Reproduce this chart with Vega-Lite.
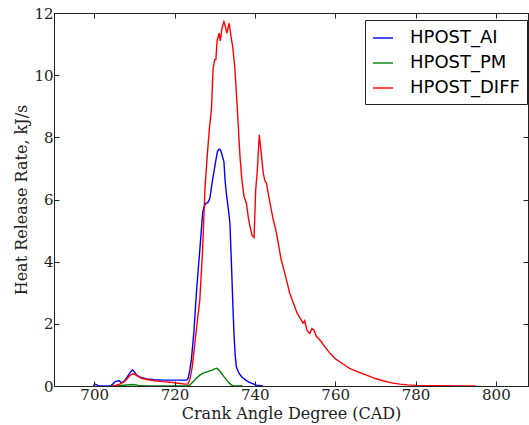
{
  "$schema": "https://vega.github.io/schema/vega-lite/v6.json",
  "width": 474,
  "height": 373,
  "autosize": {"type": "none"},
  "padding": {"left": 54, "top": 13, "right": 1, "bottom": 39},
  "background": "white",
  "config": {
    "view": {"stroke": "#222", "strokeWidth": 1},
    "axis": {
      "grid": false,
      "domainColor": "#222",
      "tickColor": "#222",
      "labelColor": "#222",
      "titleColor": "#222",
      "labelFont": "DejaVu Serif",
      "labelFontSize": 15,
      "titleFont": "DejaVu Serif",
      "titleFontSize": 16,
      "titleFontWeight": "normal"
    }
  },
  "data": {
    "values": [
      {"cad": 699.8, "hrr": 0, "series": "HPOST_AI"},
      {"cad": 700.2, "hrr": 0.06, "series": "HPOST_AI"},
      {"cad": 700.8, "hrr": 0.03, "series": "HPOST_AI"},
      {"cad": 701.2, "hrr": 0, "series": "HPOST_AI"},
      {"cad": 704.0, "hrr": 0, "series": "HPOST_AI"},
      {"cad": 704.6, "hrr": 0.06, "series": "HPOST_AI"},
      {"cad": 705.2, "hrr": 0.14, "series": "HPOST_AI"},
      {"cad": 706.2, "hrr": 0.17, "series": "HPOST_AI"},
      {"cad": 706.8, "hrr": 0.1, "series": "HPOST_AI"},
      {"cad": 707.4, "hrr": 0.15, "series": "HPOST_AI"},
      {"cad": 708.1, "hrr": 0.27, "series": "HPOST_AI"},
      {"cad": 708.9, "hrr": 0.42, "series": "HPOST_AI"},
      {"cad": 709.5, "hrr": 0.52, "series": "HPOST_AI"},
      {"cad": 710.0, "hrr": 0.45, "series": "HPOST_AI"},
      {"cad": 710.6, "hrr": 0.35, "series": "HPOST_AI"},
      {"cad": 711.5, "hrr": 0.28, "series": "HPOST_AI"},
      {"cad": 713.1, "hrr": 0.23, "series": "HPOST_AI"},
      {"cad": 715.0, "hrr": 0.2, "series": "HPOST_AI"},
      {"cad": 717.2, "hrr": 0.19, "series": "HPOST_AI"},
      {"cad": 720.0, "hrr": 0.19, "series": "HPOST_AI"},
      {"cad": 723.0, "hrr": 0.19, "series": "HPOST_AI"},
      {"cad": 723.4, "hrr": 0.25, "series": "HPOST_AI"},
      {"cad": 723.8, "hrr": 0.5, "series": "HPOST_AI"},
      {"cad": 724.2, "hrr": 0.84, "series": "HPOST_AI"},
      {"cad": 724.8, "hrr": 1.7, "series": "HPOST_AI"},
      {"cad": 725.5, "hrr": 3.09, "series": "HPOST_AI"},
      {"cad": 726.3, "hrr": 4.38, "series": "HPOST_AI"},
      {"cad": 727.0, "hrr": 5.56, "series": "HPOST_AI"},
      {"cad": 727.3, "hrr": 5.75, "series": "HPOST_AI"},
      {"cad": 727.8, "hrr": 5.88, "series": "HPOST_AI"},
      {"cad": 728.3, "hrr": 5.9, "series": "HPOST_AI"},
      {"cad": 728.8, "hrr": 6.04, "series": "HPOST_AI"},
      {"cad": 729.2, "hrr": 6.4, "series": "HPOST_AI"},
      {"cad": 729.6, "hrr": 6.73, "series": "HPOST_AI"},
      {"cad": 730.3, "hrr": 7.27, "series": "HPOST_AI"},
      {"cad": 730.7, "hrr": 7.55, "series": "HPOST_AI"},
      {"cad": 731.1, "hrr": 7.62, "series": "HPOST_AI"},
      {"cad": 731.4, "hrr": 7.6, "series": "HPOST_AI"},
      {"cad": 731.7, "hrr": 7.5, "series": "HPOST_AI"},
      {"cad": 732.0, "hrr": 7.35, "series": "HPOST_AI"},
      {"cad": 732.3, "hrr": 7.22, "series": "HPOST_AI"},
      {"cad": 732.6, "hrr": 6.6, "series": "HPOST_AI"},
      {"cad": 733.0, "hrr": 6.09, "series": "HPOST_AI"},
      {"cad": 733.4, "hrr": 5.7, "series": "HPOST_AI"},
      {"cad": 733.8, "hrr": 5.23, "series": "HPOST_AI"},
      {"cad": 734.2, "hrr": 3.84, "series": "HPOST_AI"},
      {"cad": 734.5, "hrr": 2.7, "series": "HPOST_AI"},
      {"cad": 734.8, "hrr": 1.7, "series": "HPOST_AI"},
      {"cad": 735.1, "hrr": 1.0, "series": "HPOST_AI"},
      {"cad": 735.4, "hrr": 0.62, "series": "HPOST_AI"},
      {"cad": 736.0, "hrr": 0.42, "series": "HPOST_AI"},
      {"cad": 736.7, "hrr": 0.3, "series": "HPOST_AI"},
      {"cad": 737.8, "hrr": 0.18, "series": "HPOST_AI"},
      {"cad": 738.8, "hrr": 0.11, "series": "HPOST_AI"},
      {"cad": 740.4, "hrr": 0.03, "series": "HPOST_AI"},
      {"cad": 742.0, "hrr": 0, "series": "HPOST_AI"},

      {"cad": 704.0, "hrr": 0, "series": "HPOST_PM"},
      {"cad": 706.0, "hrr": 0.01, "series": "HPOST_PM"},
      {"cad": 708.0, "hrr": 0.03, "series": "HPOST_PM"},
      {"cad": 709.7, "hrr": 0.05, "series": "HPOST_PM"},
      {"cad": 711.0, "hrr": 0.02, "series": "HPOST_PM"},
      {"cad": 713.0, "hrr": 0, "series": "HPOST_PM"},
      {"cad": 723.2, "hrr": 0, "series": "HPOST_PM"},
      {"cad": 723.8, "hrr": 0.03, "series": "HPOST_PM"},
      {"cad": 724.5, "hrr": 0.12, "series": "HPOST_PM"},
      {"cad": 725.3, "hrr": 0.23, "series": "HPOST_PM"},
      {"cad": 726.3, "hrr": 0.35, "series": "HPOST_PM"},
      {"cad": 727.3, "hrr": 0.42, "series": "HPOST_PM"},
      {"cad": 728.4, "hrr": 0.47, "series": "HPOST_PM"},
      {"cad": 729.3, "hrr": 0.5, "series": "HPOST_PM"},
      {"cad": 730.0, "hrr": 0.55, "series": "HPOST_PM"},
      {"cad": 730.5, "hrr": 0.57, "series": "HPOST_PM"},
      {"cad": 731.0, "hrr": 0.52, "series": "HPOST_PM"},
      {"cad": 731.7, "hrr": 0.41, "series": "HPOST_PM"},
      {"cad": 732.3, "hrr": 0.3, "series": "HPOST_PM"},
      {"cad": 733.0, "hrr": 0.19, "series": "HPOST_PM"},
      {"cad": 733.6, "hrr": 0.1, "series": "HPOST_PM"},
      {"cad": 734.2, "hrr": 0.03, "series": "HPOST_PM"},
      {"cad": 735.0, "hrr": 0, "series": "HPOST_PM"},
      {"cad": 737.0, "hrr": 0, "series": "HPOST_PM"},

      {"cad": 704.5, "hrr": 0, "series": "HPOST_DIFF"},
      {"cad": 705.5, "hrr": 0.03, "series": "HPOST_DIFF"},
      {"cad": 706.5, "hrr": 0.07, "series": "HPOST_DIFF"},
      {"cad": 707.5, "hrr": 0.14, "series": "HPOST_DIFF"},
      {"cad": 708.3, "hrr": 0.25, "series": "HPOST_DIFF"},
      {"cad": 709.0, "hrr": 0.35, "series": "HPOST_DIFF"},
      {"cad": 709.7, "hrr": 0.39, "series": "HPOST_DIFF"},
      {"cad": 710.3, "hrr": 0.36, "series": "HPOST_DIFF"},
      {"cad": 711.0, "hrr": 0.3, "series": "HPOST_DIFF"},
      {"cad": 712.0, "hrr": 0.24, "series": "HPOST_DIFF"},
      {"cad": 713.5, "hrr": 0.2, "series": "HPOST_DIFF"},
      {"cad": 715.0, "hrr": 0.17, "series": "HPOST_DIFF"},
      {"cad": 717.0, "hrr": 0.14, "series": "HPOST_DIFF"},
      {"cad": 719.0, "hrr": 0.12, "series": "HPOST_DIFF"},
      {"cad": 721.0, "hrr": 0.09, "series": "HPOST_DIFF"},
      {"cad": 722.6, "hrr": 0.06, "series": "HPOST_DIFF"},
      {"cad": 723.3, "hrr": 0.06, "series": "HPOST_DIFF"},
      {"cad": 723.8, "hrr": 0.2, "series": "HPOST_DIFF"},
      {"cad": 724.4, "hrr": 0.6, "series": "HPOST_DIFF"},
      {"cad": 725.0, "hrr": 1.3, "series": "HPOST_DIFF"},
      {"cad": 725.6, "hrr": 2.0, "series": "HPOST_DIFF"},
      {"cad": 726.3, "hrr": 2.77, "series": "HPOST_DIFF"},
      {"cad": 727.0, "hrr": 4.4, "series": "HPOST_DIFF"},
      {"cad": 727.6, "hrr": 6.4, "series": "HPOST_DIFF"},
      {"cad": 728.2, "hrr": 7.5, "series": "HPOST_DIFF"},
      {"cad": 728.7, "hrr": 8.3, "series": "HPOST_DIFF"},
      {"cad": 729.2, "hrr": 8.9, "series": "HPOST_DIFF"},
      {"cad": 729.6, "hrr": 10.2, "series": "HPOST_DIFF"},
      {"cad": 730.0, "hrr": 10.5, "series": "HPOST_DIFF"},
      {"cad": 730.3, "hrr": 10.5, "series": "HPOST_DIFF"},
      {"cad": 730.6, "hrr": 11.1, "series": "HPOST_DIFF"},
      {"cad": 731.1, "hrr": 11.35, "series": "HPOST_DIFF"},
      {"cad": 731.4, "hrr": 11.1, "series": "HPOST_DIFF"},
      {"cad": 731.8, "hrr": 11.5, "series": "HPOST_DIFF"},
      {"cad": 732.3, "hrr": 11.72, "series": "HPOST_DIFF"},
      {"cad": 732.6, "hrr": 11.6, "series": "HPOST_DIFF"},
      {"cad": 733.0, "hrr": 11.35, "series": "HPOST_DIFF"},
      {"cad": 733.3, "hrr": 11.5, "series": "HPOST_DIFF"},
      {"cad": 733.6, "hrr": 11.67, "series": "HPOST_DIFF"},
      {"cad": 734.0, "hrr": 11.3, "series": "HPOST_DIFF"},
      {"cad": 734.5, "hrr": 10.9, "series": "HPOST_DIFF"},
      {"cad": 735.0, "hrr": 10.27, "series": "HPOST_DIFF"},
      {"cad": 735.6, "hrr": 9.0, "series": "HPOST_DIFF"},
      {"cad": 736.3, "hrr": 7.38, "series": "HPOST_DIFF"},
      {"cad": 736.8, "hrr": 6.6, "series": "HPOST_DIFF"},
      {"cad": 737.3, "hrr": 6.1, "series": "HPOST_DIFF"},
      {"cad": 737.9, "hrr": 5.88, "series": "HPOST_DIFF"},
      {"cad": 738.4, "hrr": 5.4, "series": "HPOST_DIFF"},
      {"cad": 738.8, "hrr": 5.13, "series": "HPOST_DIFF"},
      {"cad": 739.3, "hrr": 4.85, "series": "HPOST_DIFF"},
      {"cad": 739.8, "hrr": 4.78, "series": "HPOST_DIFF"},
      {"cad": 740.0, "hrr": 5.5, "series": "HPOST_DIFF"},
      {"cad": 740.2, "hrr": 6.3, "series": "HPOST_DIFF"},
      {"cad": 740.6, "hrr": 6.9, "series": "HPOST_DIFF"},
      {"cad": 741.1, "hrr": 8.08, "series": "HPOST_DIFF"},
      {"cad": 741.5, "hrr": 7.6, "series": "HPOST_DIFF"},
      {"cad": 742.1, "hrr": 6.84, "series": "HPOST_DIFF"},
      {"cad": 742.5, "hrr": 6.6, "series": "HPOST_DIFF"},
      {"cad": 742.9, "hrr": 6.52, "series": "HPOST_DIFF"},
      {"cad": 743.6, "hrr": 6.0, "series": "HPOST_DIFF"},
      {"cad": 744.5, "hrr": 5.4, "series": "HPOST_DIFF"},
      {"cad": 745.4, "hrr": 4.91, "series": "HPOST_DIFF"},
      {"cad": 746.5, "hrr": 4.1, "series": "HPOST_DIFF"},
      {"cad": 747.6, "hrr": 3.55, "series": "HPOST_DIFF"},
      {"cad": 748.7, "hrr": 2.98, "series": "HPOST_DIFF"},
      {"cad": 749.8, "hrr": 2.6, "series": "HPOST_DIFF"},
      {"cad": 750.5, "hrr": 2.35, "series": "HPOST_DIFF"},
      {"cad": 751.2, "hrr": 2.2, "series": "HPOST_DIFF"},
      {"cad": 752.0, "hrr": 2.02, "series": "HPOST_DIFF"},
      {"cad": 752.4, "hrr": 2.1, "series": "HPOST_DIFF"},
      {"cad": 753.0, "hrr": 1.78, "series": "HPOST_DIFF"},
      {"cad": 753.7, "hrr": 1.69, "series": "HPOST_DIFF"},
      {"cad": 754.2, "hrr": 1.85, "series": "HPOST_DIFF"},
      {"cad": 754.7, "hrr": 1.8, "series": "HPOST_DIFF"},
      {"cad": 755.3, "hrr": 1.6, "series": "HPOST_DIFF"},
      {"cad": 756.2, "hrr": 1.48, "series": "HPOST_DIFF"},
      {"cad": 757.5, "hrr": 1.25, "series": "HPOST_DIFF"},
      {"cad": 758.7, "hrr": 1.05, "series": "HPOST_DIFF"},
      {"cad": 760.0, "hrr": 0.88, "series": "HPOST_DIFF"},
      {"cad": 761.1, "hrr": 0.78, "series": "HPOST_DIFF"},
      {"cad": 762.5, "hrr": 0.66, "series": "HPOST_DIFF"},
      {"cad": 763.6, "hrr": 0.57, "series": "HPOST_DIFF"},
      {"cad": 765.5, "hrr": 0.46, "series": "HPOST_DIFF"},
      {"cad": 767.8, "hrr": 0.35, "series": "HPOST_DIFF"},
      {"cad": 770.0, "hrr": 0.24, "series": "HPOST_DIFF"},
      {"cad": 771.9, "hrr": 0.17, "series": "HPOST_DIFF"},
      {"cad": 774.0, "hrr": 0.1, "series": "HPOST_DIFF"},
      {"cad": 776.1, "hrr": 0.06, "series": "HPOST_DIFF"},
      {"cad": 778.0, "hrr": 0.035, "series": "HPOST_DIFF"},
      {"cad": 780.2, "hrr": 0.02, "series": "HPOST_DIFF"},
      {"cad": 785.0, "hrr": 0.01, "series": "HPOST_DIFF"},
      {"cad": 790.0, "hrr": 0.005, "series": "HPOST_DIFF"},
      {"cad": 795.0, "hrr": 0, "series": "HPOST_DIFF"}
    ]
  },
  "layer": [
    {
      "mark": {"type": "line", "strokeWidth": 1.4},
      "encoding": {
        "x": {
          "field": "cad", "type": "quantitative",
          "scale": {"domain": [690, 808], "nice": false, "zero": false},
          "axis": {
            "title": "Crank Angle Degree (CAD)",
            "values": [700, 720, 740, 760, 780, 800],
            "tickSize": -5,
            "labelPadding": 6,
            "titlePadding": 3,
            "zindex": 1,
            "format": "d"
          }
        },
        "y": {
          "field": "hrr", "type": "quantitative",
          "scale": {"domain": [0, 12], "nice": false},
          "axis": {
            "title": "Heat Release Rate, kJ/s",
            "values": [0, 2, 4, 6, 8, 10, 12],
            "tickSize": -5,
            "labelPadding": 6,
            "titlePadding": 4,
            "format": "d"
          }
        },
        "color": {
          "field": "series", "type": "nominal",
          "scale": {"domain": ["HPOST_AI", "HPOST_PM", "HPOST_DIFF"], "range": ["#0000ff", "#008000", "#ff0000"]},
          "legend": {
            "title": null,
            "orient": "none",
            "legendX": 311,
            "legendY": 7,
            "strokeColor": "#222",
            "fillColor": "white",
            "padding": 7,
            "symbolType": "stroke",
            "symbolSize": 400,
            "symbolStrokeWidth": 1.4,
            "labelFont": "DejaVu Sans",
            "labelFontSize": 18,
            "labelColor": "black",
            "labelOffset": 16,
            "rowPadding": 5,
            "cornerRadius": 0
          }
        }
      }
    },
    {
      "mark": {"type": "line", "opacity": 0},
      "encoding": {
        "x": {
          "field": "cad", "type": "quantitative",
          "scale": {"domain": [690, 808], "nice": false, "zero": false},
          "axis": {"orient": "top", "title": null, "labels": false, "values": [700, 720, 740, 760, 780, 800], "tickSize": -5}
        },
        "y": {
          "field": "hrr", "type": "quantitative",
          "scale": {"domain": [0, 12], "nice": false},
          "axis": {"orient": "right", "title": null, "labels": false, "values": [0, 2, 4, 6, 8, 10, 12], "tickSize": -5}
        }
      }
    }
  ],
  "resolve": {"axis": {"x": "independent", "y": "independent"}}
}
